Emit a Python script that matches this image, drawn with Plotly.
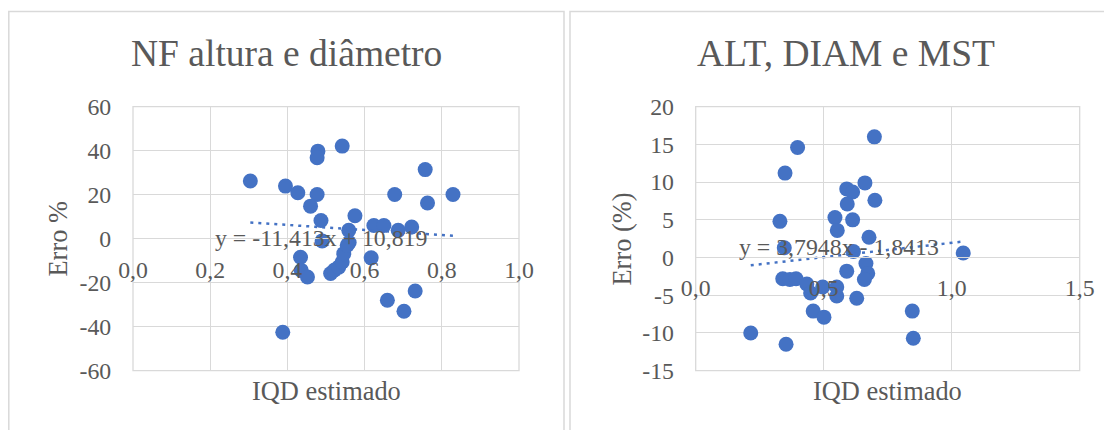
import plotly.graph_objects as go

# page is offset by the default 8px body margin; the figure fills the rest
OFF = 8
W, H = 1112 - OFF, 430 - OFF

# ---------------- data ----------------
# Chart 1: NF altura e diâmetro
nf_x = [0.304, 0.395, 0.427, 0.479, 0.477, 0.542, 0.477, 0.460, 0.487, 0.575,
        0.678, 0.757, 0.763, 0.829, 0.624, 0.650, 0.687, 0.722, 0.559, 0.560,
        0.490, 0.434, 0.436, 0.452, 0.512, 0.522, 0.533, 0.542, 0.546, 0.555,
        0.617, 0.659, 0.702, 0.731, 0.388]
nf_y = [26.2, 23.9, 20.9, 39.8, 36.8, 42.1, 20.1, 14.8, 8.3, 10.4,
        20.1, 31.4, 16.2, 20.1, 6.0, 6.0, 3.8, 5.3, 3.8, -1.7,
        -1.0, -8.4, -14.4, -17.4, -15.8, -14.2, -12.9, -10.6, -6.8, -3.0,
        -8.7, -28.0, -33.0, -23.8, -42.5]
nf_slope, nf_intercept = -11.413, 10.819
nf_eq = "y = -11,413x + 10,819"

# Chart 2: ALT, DIAM e MST
alt_x = [0.398, 0.349, 0.329, 0.346, 0.590, 0.613, 0.592, 0.544, 0.553, 0.613,
         0.616, 0.590, 0.698, 0.661, 0.700, 0.677, 1.045, 0.665, 0.672, 0.659,
         0.340, 0.368, 0.392, 0.434, 0.496, 0.551, 0.449, 0.551, 0.629, 0.459,
         0.501, 0.215, 0.353, 0.846, 0.850]
alt_y = [14.6, 11.2, 4.8, 1.3, 9.1, 8.7, 7.1, 5.3, 3.6, 5.0,
         0.8, -1.8, 16.0, 9.9, 7.6, 2.7, 0.6, -0.8, -2.1, -2.9,
         -2.8, -2.9, -2.8, -3.5, -3.9, -3.9, -4.7, -5.1, -5.4, -7.1,
         -7.9, -10.0, -11.5, -7.1, -10.7]
alt_slope, alt_intercept = 3.7948, -1.8413
alt_eq = "y = 3,7948x - 1,8413"

# ticks
l_xticks = [0.0, 0.2, 0.4, 0.6, 0.8, 1.0]
l_xtext = ["0,0", "0,2", "0,4", "0,6", "0,8", "1,0"]
l_yticks = [-60, -40, -20, 0, 20, 40, 60]
l_ytext = ["-60", "-40", "-20", "0", "20", "40", "60"]
r_xticks = [0.0, 0.5, 1.0, 1.5]
r_xtext = ["0,0", "0,5", "1,0", "1,5"]
r_yticks = [-15, -10, -5, 0, 5, 10, 15, 20]
r_ytext = ["-15", "-10", "-5", "0", "5", "10", "15", "20"]

# ---------------- style ----------------
FONT = "Liberation Serif"
TXT = "#595959"
GRID = "#d9d9d9"
BLUE = "#4472C4"
TICK_SIZE = 23.8
AXT_SIZE = 26.4
TITLE_SIZE = 37.5


def px(x):
    """screen pixel x -> paper fraction"""
    return (x - OFF) / W


def py(y):
    """screen pixel y -> paper fraction"""
    return 1 - (y - OFF) / H


fig = go.Figure()

# scatter + trend, chart 1
fig.add_trace(go.Scatter(x=nf_x, y=nf_y, mode="markers",
                         marker=dict(size=15, color=BLUE), xaxis="x", yaxis="y"))
tx1 = [min(nf_x), max(nf_x)]
fig.add_trace(go.Scatter(x=tx1, y=[nf_slope * v + nf_intercept for v in tx1], mode="lines",
                         line=dict(color=BLUE, width=2.5, dash="3px,5px"), xaxis="x", yaxis="y"))

# scatter + trend, chart 2
fig.add_trace(go.Scatter(x=alt_x, y=alt_y, mode="markers",
                         marker=dict(size=15, color=BLUE), xaxis="x2", yaxis="y2"))
tx2 = [min(alt_x), max(alt_x)]
fig.add_trace(go.Scatter(x=tx2, y=[alt_slope * v + alt_intercept for v in tx2], mode="lines",
                         line=dict(color=BLUE, width=2.5, dash="3px,5px"), xaxis="x2", yaxis="y2"))

ydom = [py(370.7), py(106.7)]
tickfont = dict(family=FONT, size=TICK_SIZE, color=TXT)

common_x = dict(showgrid=True, gridcolor=GRID, gridwidth=1.3, zeroline=False,
                showline=True, linecolor=GRID, linewidth=1.3,
                ticks="outside", ticklen=10, tickcolor="rgba(0,0,0,0)",
                tickfont=tickfont, anchor="free", fixedrange=True, automargin=False)
common_y = dict(showgrid=True, gridcolor=GRID, gridwidth=1.3, zeroline=False,
                showline=False, ticks="outside", ticklen=16, tickcolor="rgba(0,0,0,0)",
                tickfont=tickfont, domain=ydom, fixedrange=True, automargin=False)

fig.update_layout(
    template="none",
    width=W, height=H, autosize=False,
    margin=dict(l=0, r=0, t=0, b=0, pad=0),
    paper_bgcolor="white", plot_bgcolor="white",
    showlegend=False,
    separators=", ",
    xaxis=dict(domain=[px(133), px(519)], range=[0, 1], tickvals=l_xticks, ticktext=l_xtext,
               position=py(238.3), **common_x),
    yaxis=dict(range=[-60, 60], tickvals=l_yticks, ticktext=l_ytext, anchor="x", **common_y),
    xaxis2=dict(domain=[px(695.7), px(1079.7)], range=[0, 1.5], tickvals=r_xticks, ticktext=r_xtext,
                position=py(256.7), **common_x),
    yaxis2=dict(range=[-15, 20], tickvals=r_yticks, ticktext=r_ytext, anchor="x2", **common_y),
)

shapes = []
# chart area borders
shapes.append(dict(type="rect", xref="paper", yref="paper", x0=px(8.8), x1=px(564), y0=py(445), y1=py(11.5),
                   line=dict(color=GRID, width=1.5), layer="below"))
shapes.append(dict(type="rect", xref="paper", yref="paper", x0=px(570), x1=px(1125), y0=py(445), y1=py(11.5),
                   line=dict(color=GRID, width=1.5), layer="below"))
# plot area borders
for xr, yr in (("x domain", "y domain"), ("x2 domain", "y2 domain")):
    shapes.append(dict(type="rect", xref=xr, yref=yr, x0=0, x1=1, y0=0, y1=1,
                       line=dict(color=GRID, width=1.3), layer="below"))
fig.update_layout(shapes=shapes)

ann = []
# titles
ann.append(dict(text="NF altura e diâmetro", x=px(286), y=py(53), xref="paper", yref="paper",
                showarrow=False, xanchor="center", yanchor="middle",
                font=dict(family=FONT, size=TITLE_SIZE, color=TXT)))
ann.append(dict(text="ALT, DIAM e MST", x=px(846), y=py(53), xref="paper", yref="paper",
                showarrow=False, xanchor="center", yanchor="middle",
                font=dict(family=FONT, size=TITLE_SIZE, color=TXT)))
# axis titles
for xc, label in ((326, "IQD estimado"), (887.7, "IQD estimado")):
    ann.append(dict(text=label, x=px(xc), y=py(391), xref="paper", yref="paper",
                    showarrow=False, xanchor="center", yanchor="middle",
                    font=dict(family=FONT, size=AXT_SIZE, color=TXT)))
for xc, label in ((57.5, "Erro %"), (621.5, "Erro (%)")):
    ann.append(dict(text=label, x=px(xc), y=py(239), xref="paper", yref="paper",
                    showarrow=False, xanchor="center", yanchor="middle", textangle=-90,
                    font=dict(family=FONT, size=AXT_SIZE, color=TXT)))
# trendline equations
ann.append(dict(text=nf_eq, x=0.208, y=0.5, xref="x", yref="y", showarrow=False,
                xanchor="left", yanchor="middle",
                font=dict(family=FONT, size=TICK_SIZE, color=TXT)))
ann.append(dict(text=alt_eq, x=0.161, y=1.45, xref="x2", yref="y2", showarrow=False,
                xanchor="left", yanchor="middle",
                font=dict(family=FONT, size=TICK_SIZE, color=TXT)))
fig.update_layout(annotations=ann)

fig.write_html("out.html")
